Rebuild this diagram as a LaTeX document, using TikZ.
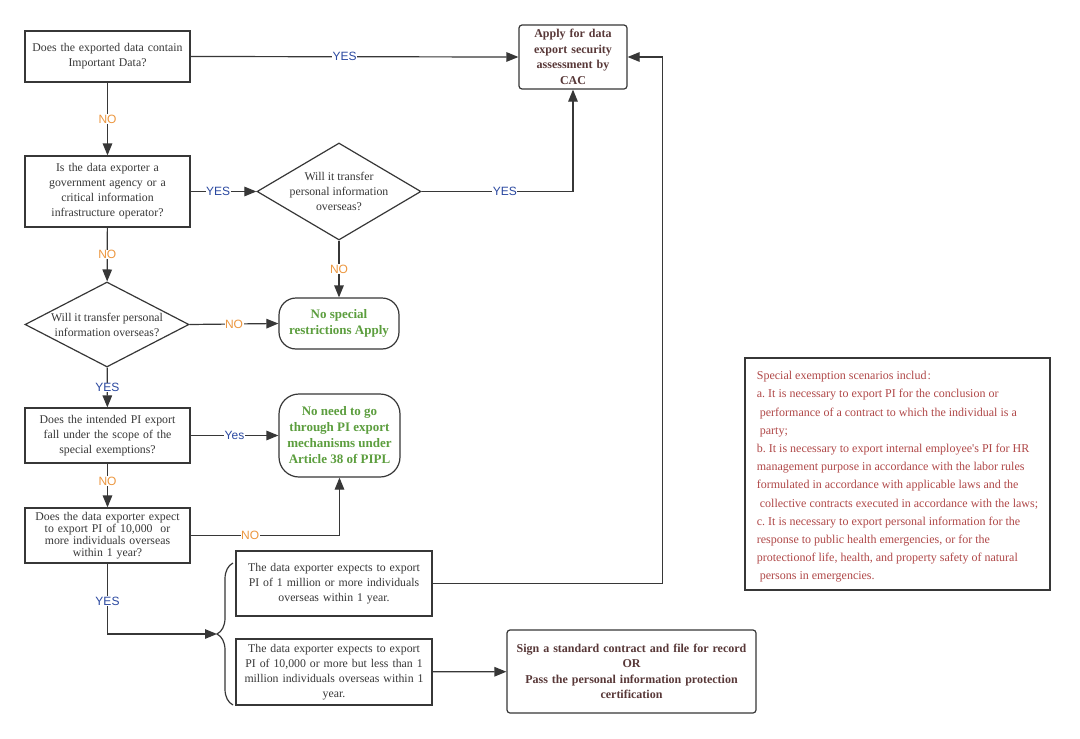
\documentclass[tikz,border=0pt]{standalone}
\usepackage{fontspec}
\setmainfont{Liberation Serif}
\newfontfamily\labelfont{Liberation Sans}
\usetikzlibrary{arrows.meta,shapes.geometric,decorations.pathreplacing}

\definecolor{linegray}{RGB}{55,55,55}
\definecolor{textgray}{RGB}{55,55,55}
\definecolor{actbrown}{RGB}{88,56,56}
\definecolor{endgreen}{RGB}{92,158,62}
\definecolor{yesblue}{RGB}{42,72,160}
\definecolor{noorange}{RGB}{236,150,62}
\definecolor{notered}{RGB}{176,72,72}

\tikzset{
  qbox/.style={draw=linegray, line width=1.2pt, text=textgray, align=center, inner sep=0pt,
    minimum width=165pt, text width=160pt, font=\fontsize{11.8}{15}\selectfont},
  qdia/.style={draw=linegray, line width=1.2pt, shape=diamond, text=textgray, align=center,
    inner sep=-6pt, font=\fontsize{11.8}{15}\selectfont},
  endbox/.style={draw=linegray, line width=1.2pt, rounded corners=17pt, text=endgreen, align=center,
    inner sep=0pt, font=\bfseries\fontsize{13}{16}\selectfont},
  actbox/.style={draw=linegray, line width=1.2pt, rounded corners=3pt, text=actbrown, align=center,
    inner sep=0pt, font=\bfseries\fontsize{12}{15.5}\selectfont},
  arr/.style={draw=linegray, line width=1.2pt, -{Triangle[length=12pt,width=9.5pt]}},
  yeslabel/.style={fill=white, inner sep=0.5pt, text=yesblue, font=\labelfont\fontsize{12}{12}\selectfont},
  nolabel/.style={yeslabel, text=noorange},
}

\begin{document}
\begin{tikzpicture}[x=1pt, y=-1pt]
\path[fill=white, use as bounding box] (0, 0) rectangle (1080, 739);

\node[qbox, minimum height=51pt] (q1) at (107.5, 56.5) {Does the exported data contain\\Important Data?};
\node[actbox, minimum width=108pt, minimum height=64pt, text width=104pt] (cac) at (573, 57)
  {Apply for data\\export security\\assessment by\\CAC};
\node[qbox, minimum height=71pt] (q2) at (107.5, 191.5)
  {Is the data exporter a\\government agency or a\\critical information\\infrastructure operator?};
\node[qdia, aspect=1.7, minimum width=164pt, minimum height=97pt] (d1) at (339, 191.5)
  {Will it transfer\\personal information\\overseas?};
\node[qdia, aspect=1.9, minimum width=164pt, minimum height=85pt] (d2) at (107, 324.5)
  {Will it transfer personal\\information overseas?};
\node[endbox, minimum width=120pt, minimum height=51pt] (free) at (339, 323.5) {No special\\restrictions Apply};
\node[qbox, minimum height=55pt] (q3) at (107.5, 435.5)
  {Does the intended PI export\\fall under the scope of the\\special exemptions?};
\node[endbox, minimum width=121pt, minimum height=83pt, rounded corners=20pt] (exempt) at (339.5, 435.5)
  {No need to go\\through PI export\\mechanisms under\\Article 38 of PIPL};
\node[qbox, minimum height=55pt, font=\fontsize{11.8}{12}\selectfont] (q4) at (107.5, 535.5)
  {Does the data exporter expect\\to export PI of 10,000~ or\\more individuals overseas\\within 1 year?};
\node[qbox, minimum width=196pt, text width=192pt, minimum height=65pt] (big) at (334, 583.5)
  {The data exporter expects to export\\PI of 1 million or more individuals\\overseas within 1 year.};
\node[qbox, minimum width=196pt, text width=192pt, minimum height=66pt] (mid) at (334, 672)
  {The data exporter expects to export\\PI of 10,000 or more but less than 1\\million individuals overseas within 1\\year.};
\node[actbox, minimum width=249pt, minimum height=83pt, text width=245pt] (sign) at (631.5, 671.5)
  {Sign a standard contract and file for record\\OR\\Pass the personal information protection\\certification};
\node[draw=linegray, line width=1.8pt, minimum width=305pt, minimum height=232pt, align=left, inner sep=0pt,
  text=notered, font=\fontsize{12}{18.2}\selectfont\frenchspacing] (note) at (897.5, 474)
  {\raisebox{0pt}[14pt]{}Special exemption scenarios includ\kern1pt:\\
   a. It is necessary to export PI for the conclusion or\\
   \hspace*{3pt}performance of a contract to which the individual is a\\
   \hspace*{3pt}party;\\
   b. It is necessary to export internal employee\textquotesingle s PI for HR\\
   management purpose in accordance with the labor rules\\
   formulated in accordance with applicable laws and the\\
   \hspace*{3pt}collective contracts executed in accordance with the laws;\\
   c. It is necessary to export personal information for the\\
   response to public health emergencies, or for the\\
   protectionof life, health, and property safety of natural\\
   \hspace*{3pt}persons in emergencies.};

\draw[arr] (q1.east) -- node[yeslabel, pos=.47] {YES} (cac.west);
\draw[arr] (q1) -- node[nolabel] {NO} (q2);
\draw[arr] (q2) -- node[yeslabel, pos=.42] {YES} (d1);
\draw[arr] (d1.east) -- node[yeslabel, pos=.55] {YES} (d1.east -| cac.south) -- (cac.south);
\draw[arr] (d1) -- node[nolabel] {NO} (free);
\draw[arr] (q2) -- node[nolabel] {NO} (d2);
\draw[arr] (d2.east) -- node[nolabel] {NO} (free.west);
\draw[arr] (d2) -- node[yeslabel] {YES} (q3);
\draw[arr] (q3) -- node[yeslabel] {Yes} (exempt);
\draw[arr] (q3) -- node[nolabel, pos=.4] {NO} (q4);
\draw[arr] (q4.east) -- node[nolabel, pos=.4] {NO} (q4.east -| exempt.south) -- (exempt.south);

\coordinate (tip) at (217, 634);
\draw[arr] (q4.south) -- node[yeslabel, pos=.53] {YES} (q4.south |- tip) -- (tip);
\draw[linegray, line width=1.2pt, decorate, decoration={brace, amplitude=16pt}] (233, 705) -- (233, 563);

\draw[arr] (big.east) -- ++(230, 0) |- (cac.east);
\draw[arr] (mid) -- (sign);
\end{tikzpicture}
\end{document}
